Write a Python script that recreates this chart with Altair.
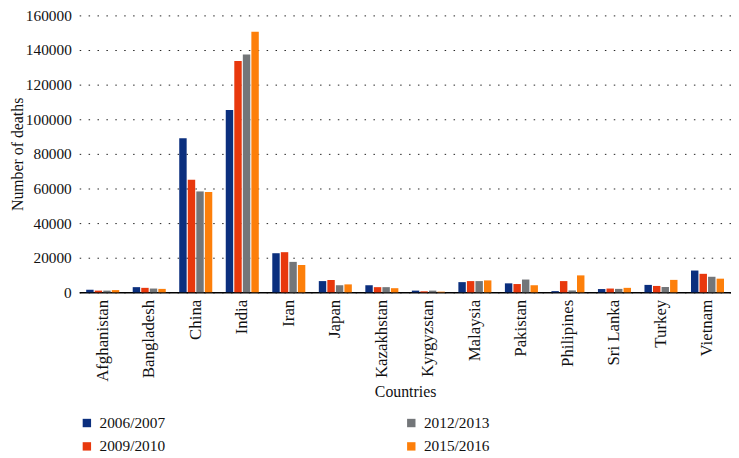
import altair as alt
import pandas as pd

countries = ["Afghanistan", "Bangladesh", "China", "India", "Iran", "Japan", "Kazakhstan",
             "Kyrgyzstan", "Malaysia", "Pakistan", "Philipines", "Sri Lanka", "Turkey", "Vietnam"]
periods = ["2006/2007", "2009/2010", "2012/2013", "2015/2016"]

deaths_2006 = [1500, 3000, 89000, 105400, 22600, 6500, 4100, 1000, 5900, 5200, 700, 1900, 4300, 12600]
deaths_2009 = [1000, 2600, 65000, 133700, 23200, 7200, 3000, 600, 6500, 4800, 6500, 2200, 3700, 10700]
deaths_2012 = [1000, 2200, 58300, 137400, 17600, 4100, 3000, 1000, 6500, 7400, 1100, 2000, 3100, 9000]
deaths_2015 = [1300, 2000, 58000, 150600, 15800, 4600, 2400, 400, 6900, 4100, 9800, 2600, 7200, 7900]

series = [deaths_2006, deaths_2009, deaths_2012, deaths_2015]
colors = ["#0b2f7e", "#e8380d", "#737679", "#fd7f0a"]

rows = []
for p, vals in zip(periods, series):
    for c, v in zip(countries, vals):
        rows.append({"Country": c, "Period": p, "Deaths": v})
df = pd.DataFrame(rows)

FONT = "Liberation Serif"

chart = alt.Chart(df).mark_bar().encode(
    x=alt.X("Country:N", sort=countries,
            scale=alt.Scale(paddingInner=0.29, paddingOuter=0.15),
            axis=alt.Axis(title="Countries", labelAngle=270, ticks=False,
                          domainColor="#000000", domainWidth=1.5,
                          labelPadding=7, labelFontSize=17, labelFont=FONT,
                          labelColor="#111111",
                          titleFont=FONT, titleFontSize=16, titleFontWeight="normal",
                          titleColor="#111111", titleY=100, titleBaseline="middle")),
    xOffset=alt.XOffset("Period:N", sort=periods,
                        scale=alt.Scale(paddingInner=0.13, paddingOuter=0)),
    y=alt.Y("Deaths:Q",
            scale=alt.Scale(domain=[0, 160000], nice=False),
            axis=alt.Axis(title="Number of deaths", values=list(range(0, 160001, 20000)),
                          format="d", domain=False, ticks=False,
                          grid=True, gridDash=[1.5, 7.5], gridColor="#222222", gridWidth=1,
                          labelPadding=8, labelFontSize=15.5, labelFont=FONT,
                          labelColor="#111111",
                          titleFont=FONT, titleFontSize=16, titleFontWeight="normal",
                          titleColor="#111111", titleX=-62, titleBaseline="middle")),
    color=alt.Color("Period:N",
                    scale=alt.Scale(domain=periods, range=colors),
                    legend=alt.Legend(title=None, orient="none", legendX=0, legendY=404,
                                      columns=2, columnPadding=241, rowPadding=7,
                                      symbolType="square", symbolSize=72,
                                      symbolStrokeWidth=0,
                                      labelFont=FONT, labelFontSize=15.5,
                                      labelColor="#111111", labelOffset=5)),
).properties(
    width=659,
    height=280,
    autosize=alt.AutoSizeParams(type="none"),
    padding={"left": 72, "top": 5, "right": 0, "bottom": 165},
).configure(
    font=FONT
).configure_view(
    stroke=None
).configure_axis(
    gridOpacity=1
)

chart.save("out.html", embed_options={"renderer": "svg", "actions": False})
